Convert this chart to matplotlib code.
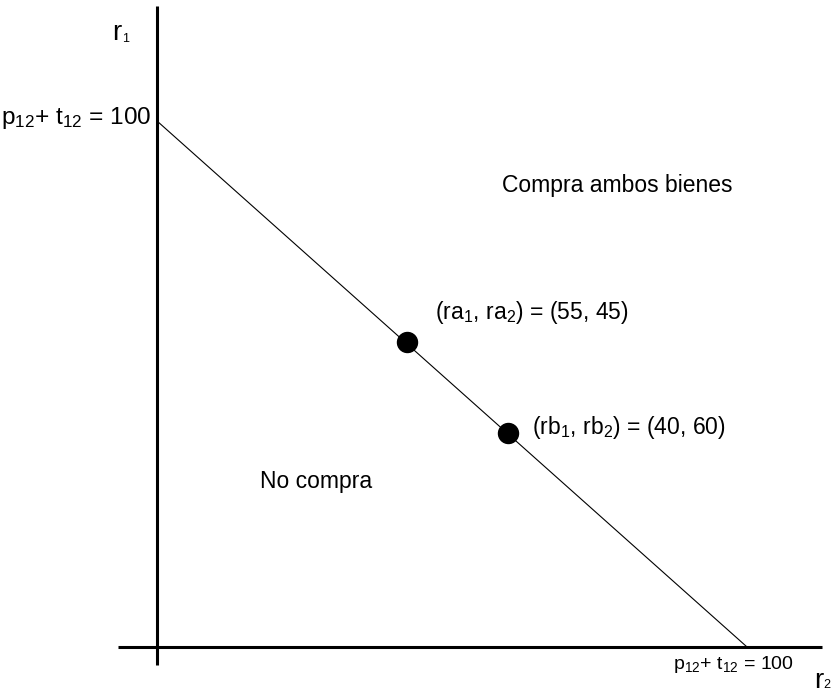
import matplotlib
matplotlib.use("Agg")
import matplotlib.pyplot as plt

plt.rcParams['font.family'] = ['Liberation Sans', 'DejaVu Sans']
plt.rcParams['mathtext.fontset'] = 'custom'
plt.rcParams['mathtext.rm'] = 'Liberation Sans'
plt.rcParams['mathtext.it'] = 'Liberation Sans'
plt.rcParams['mathtext.default'] = 'regular'

# recta de indiferencia r1 + r2 = 100 (x = r2, y = r1)
line_r2 = [0, 100]
line_r1 = [100, 0]

# puntos sobre la recta (posiciones)
point_r2 = [42.4, 59.5]
point_r1 = [58.0, 40.6]
point_labels = ["(ra$_1$, ra$_2$) = (55, 45)", "(rb$_1$, rb$_2$) = (40, 60)"]

fig = plt.figure(figsize=(8.36, 6.93), dpi=100)
ax = fig.add_axes([0, 0, 1, 1])
ax.set_xlim(-26.61, 115.08)
ax.set_ylim(-8.75, 123.0)
ax.axis('off')

# ejes dibujados a mano
ax.plot([-6.6, 112.7], [0, 0], color='black', lw=2.2, solid_capstyle='butt')
ax.plot([0, 0], [-3.4, 121.9], color='black', lw=2.2, solid_capstyle='butt')

ax.plot(line_r2, line_r1, color='black', lw=0.8)
ax.plot(point_r2, point_r1, 'o', color='black', markersize=14.4)

fs = 16.5
ax.text(47.1, 63.5, point_labels[0], fontsize=fs, ha='left', va='center')
ax.text(63.6, 41.8, point_labels[1], fontsize=fs, ha='left', va='center')
ax.text(58.5, 87.8, "Compra ambos bienes", fontsize=fs, ha='left', va='center')
ax.text(17.5, 31.4, "No compra", fontsize=fs, ha='left', va='center')

ax.text(-0.85, 100.6, "p$_{12}$+ t$_{12}$ = 100", fontsize=17.6, ha='right', va='center')
ax.text(87.5, -3.4, "p$_{12}$+ t$_{12}$ = 100", fontsize=14, ha='left', va='center')

# etiquetas de los ejes
ax.text(-7.6, 116.7, "r", fontsize=20, ha='left', va='center')
ax.text(-5.9, 115.6, "1", fontsize=9, ha='left', va='center')
ax.text(111.4, -6.4, "r", fontsize=20, ha='left', va='center')
ax.text(113.0, -7.2, "2", fontsize=9, ha='left', va='center')

fig.savefig("out.png", dpi=100)
